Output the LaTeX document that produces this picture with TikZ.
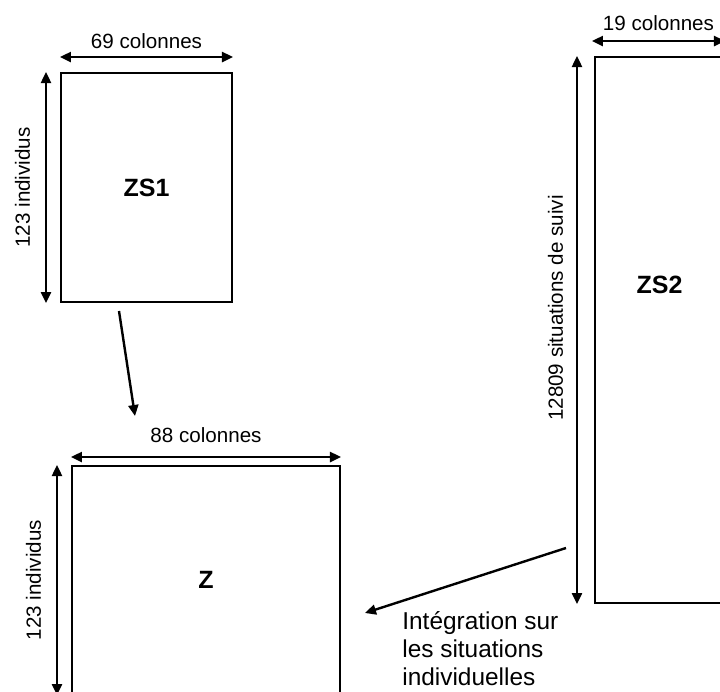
\documentclass[tikz,border=0pt]{standalone}
\usepackage{fontspec}
\setmainfont{Liberation Sans}
\usetikzlibrary{arrows.meta,calc,positioning}

\begin{document}
\begin{tikzpicture}[
  x=0.5pt, y=-0.5pt,
  mat/.style={draw,line width=1pt,inner sep=0pt,font=\fontsize{12.5}{15}\selectfont\bfseries},
  dim/.style={{Triangle[length=5.5pt,width=5pt]}-{Triangle[length=5.5pt,width=5pt]},line width=1.2pt},
  flow/.style={-{Triangle[length=5.5pt,width=5pt]},line width=1.2pt},
  lab/.style={font=\fontsize{10.3}{12}\selectfont},
  note/.style={font=\fontsize{12.2}{14}\selectfont,align=left,inner sep=0pt}
]
\useasboundingbox (0,0) rectangle (720,692);
\clip (0,0) rectangle (720,692);
\node[mat,minimum width=85.5pt,minimum height=114.5pt] (zs1) at (146.5,187.5) {ZS1};
\node[mat,minimum width=134pt,minimum height=114pt] (z) at (206,580) {Z};
\node[mat,minimum width=64.5pt,minimum height=273pt] (zs2) at (659.5,330) {};
\node[font=\fontsize{12.5}{15}\selectfont\bfseries] (zs2lab) at ($(zs2.center)+(0,-45)$) {ZS2};
\node[note,anchor=north west] (integ) at (402,611) {Intégration sur\\les situations\\individuelles};
% dimensions
\draw[dim] ([yshift=7.5pt]zs1.north west) -- ([yshift=7.5pt]zs1.north east) node[lab,midway,above] (zs1cols) {69 colonnes};
\draw[dim] ([xshift=-7pt]zs1.south west) -- ([xshift=-7pt]zs1.north west) node[lab,midway,sloped,above=4pt] (zs1rows) {123 individus};
\draw[dim] ([yshift=4pt]z.north west) -- ([yshift=4pt]z.north east) node[lab,midway,above=3pt] (zcols) {88 colonnes};
\draw[dim] ([xshift=-7pt]z.south west) -- ([xshift=-7pt]z.north west) node[lab,midway,sloped,above=4pt] (zrows) {123 individus};
\draw[dim] ([yshift=7.5pt,xshift=-1pt]zs2.north west) -- ([yshift=7.5pt]zs2.north east) node[lab,midway,above=1pt] (zs2cols) {19 colonnes};
\draw[dim] ([xshift=-8.5pt]zs2.south west) -- ([xshift=-8.5pt]zs2.north west) node[lab,pos=0.54,sloped,above=3pt] (zs2rows) {12809 situations de suivi};
% flows
\draw[flow] ($(zs1.south)+(-27.5,8)$) -- ($(z.north west)+(64,-49)$);
\draw[flow] ($(zs2.south west)+(-28,-56)$) -- ($(integ.north west)+(-37,2)$);
\end{tikzpicture}
\end{document}
